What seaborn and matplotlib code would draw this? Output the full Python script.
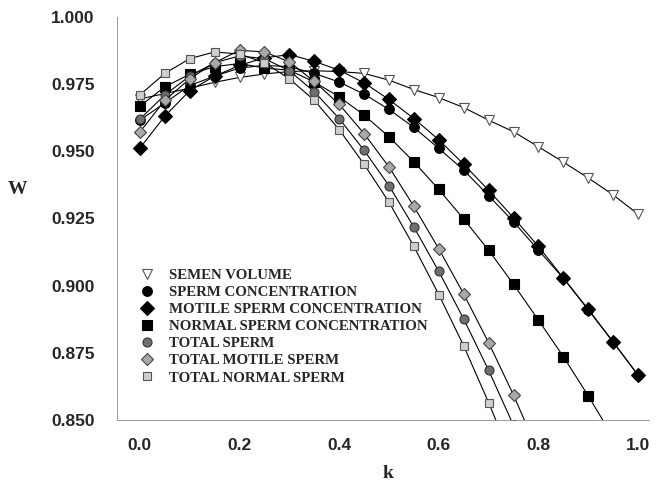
import matplotlib
matplotlib.use("Agg")
import matplotlib.pyplot as plt
from matplotlib.lines import Line2D
import seaborn as sns
import numpy as np

# k grid, 0.00 .. 1.00 step 0.05
k = [0.00, 0.05, 0.10, 0.15, 0.20, 0.25, 0.30, 0.35, 0.40, 0.45, 0.50,
     0.55, 0.60, 0.65, 0.70, 0.75, 0.80, 0.85, 0.90, 0.95, 1.00]

semen_volume = [0.9695, 0.9715, 0.9735, 0.9757, 0.9775, 0.9788, 0.9797, 0.9800,
                0.9797, 0.9790, 0.9765, 0.9730, 0.9700, 0.9663, 0.9616, 0.9573,
                0.9517, 0.9460, 0.9401, 0.9338, 0.9266]
sperm_conc = [0.9616, 0.9680, 0.9745, 0.9780, 0.9810, 0.9820, 0.9815, 0.9790,
              0.9758, 0.9713, 0.9656, 0.9589, 0.9511, 0.9430, 0.9335, 0.9238,
              0.9132, 0.9028, 0.8910, 0.8790, 0.8667]
motile_conc = [0.9512, 0.9631, 0.9726, 0.9780, 0.9820, 0.9848, 0.9860, 0.9835,
               0.9802, 0.9755, 0.9693, 0.9622, 0.9543, 0.9452, 0.9355, 0.9253,
               0.9146, 0.9029, 0.8912, 0.8791, 0.8667]
normal_conc = [0.9668, 0.9740, 0.9787, 0.9815, 0.9827, 0.9810, 0.9802, 0.9758,
               0.9703, 0.9635, 0.9554, 0.9461, 0.9358, 0.9248, 0.9132, 0.9005,
               0.8872, 0.8736, 0.8590, 0.8435, 0.8270]

k_total = k[:17]
total_sperm = [0.9620, 0.9710, 0.9780, 0.9830, 0.9855, 0.9845, 0.9800, 0.9722,
               0.9622, 0.9504, 0.9372, 0.9218, 0.9053, 0.8876, 0.8685, 0.8480,
               0.8260]
total_motile = [0.9572, 0.9690, 0.9770, 0.9830, 0.9876, 0.9870, 0.9833, 0.9760,
                0.9675, 0.9566, 0.9442, 0.9295, 0.9137, 0.8969, 0.8788, 0.8593,
                0.8380]
total_normal = [0.9710, 0.9790, 0.9845, 0.9870, 0.9862, 0.9830, 0.9770, 0.9690,
                0.9581, 0.9452, 0.9311, 0.9146, 0.8967, 0.8776, 0.8565, 0.8340,
                0.8100]

labels = ["SEMEN VOLUME", "SPERM CONCENTRATION", "MOTILE SPERM CONCENTRATION",
          "NORMAL SPERM CONCENTRATION", "TOTAL SPERM", "TOTAL MOTILE SPERM",
          "TOTAL NORMAL SPERM"]

series = [
    (k, semen_volume, "v", "white", "#555555", 7.0),
    (k, sperm_conc, "o", "black", "black", 7.0),
    (k, motile_conc, "D", "black", "black", 7.5),
    (k, normal_conc, "s", "black", "black", 7.0),
    (k_total, total_sperm, "o", "#6e6e6e", "#333333", 6.5),
    (k_total, total_motile, "D", "#a8a8a8", "#444444", 6.0),
    (k_total, total_normal, "s", "#cfcfcf", "#555555", 6.0),
]

sns.set_style("white")
fig = plt.figure(figsize=(6.61, 4.88), dpi=100)
ax = fig.add_axes([117 / 661, 1 - 420 / 488, 532 / 661, 403 / 488])

handles = []
for (xs, ys, mk, fc, ec, ms), lab in zip(series, labels):
    sns.lineplot(x=xs, y=ys, ax=ax, color="black", linewidth=0.8,
                 marker=mk, markersize=ms, markerfacecolor=fc,
                 markeredgecolor=ec, markeredgewidth=0.8, zorder=3)
    handles.append(Line2D([], [], linestyle="none", marker=mk, markersize=ms,
                          markerfacecolor=fc, markeredgecolor=ec,
                          markeredgewidth=0.8, label=lab))

ax.set_xlim(-0.046, 1.022)
ax.set_ylim(0.85, 1.0)
ax.set_xticks([0.0, 0.2, 0.4, 0.6, 0.8, 1.0])
ax.set_yticks([0.850, 0.875, 0.900, 0.925, 0.950, 0.975, 1.000])
ax.set_xticklabels([f"{v:.1f}" for v in ax.get_xticks()])
ax.set_yticklabels([f"{v:.3f}" for v in ax.get_yticks()])

for side in ["top", "right"]:
    ax.spines[side].set_visible(False)
for side in ["left", "bottom"]:
    ax.spines[side].set_color("#9a9a9a")
    ax.spines[side].set_linewidth(0.7)

ax.tick_params(axis="both", which="major", direction="out", length=4,
               width=0.7, color="#9a9a9a", labelsize=12.5)
ax.tick_params(axis="y", pad=12)
ax.tick_params(axis="x", pad=9)
for t in ax.get_xticklabels() + ax.get_yticklabels():
    t.set_fontfamily("Liberation Sans")
    t.set_fontweight("bold")

ax.set_xlabel("")
ax.set_ylabel("")
fig.text(17 / 661, 1 - 190 / 488, "W", family="Liberation Serif",
         fontweight="bold", fontsize=14, ha="center", va="center")
fig.text(388 / 661, 1 - 473 / 488, "k", family="Liberation Serif",
         fontweight="bold", fontsize=14, ha="center", va="center")

leg = ax.legend(handles=handles, loc="upper left",
                bbox_to_anchor=(132 / 661, 1 - 261 / 488),
                bbox_transform=fig.transFigure, frameon=False, borderpad=0,
                handlelength=1.0, handletextpad=1.0, labelspacing=0.25,
                prop={"family": "Liberation Serif", "weight": "bold", "size": 10.7})

fig.savefig("out.png", dpi=100)
plt.close(fig)
